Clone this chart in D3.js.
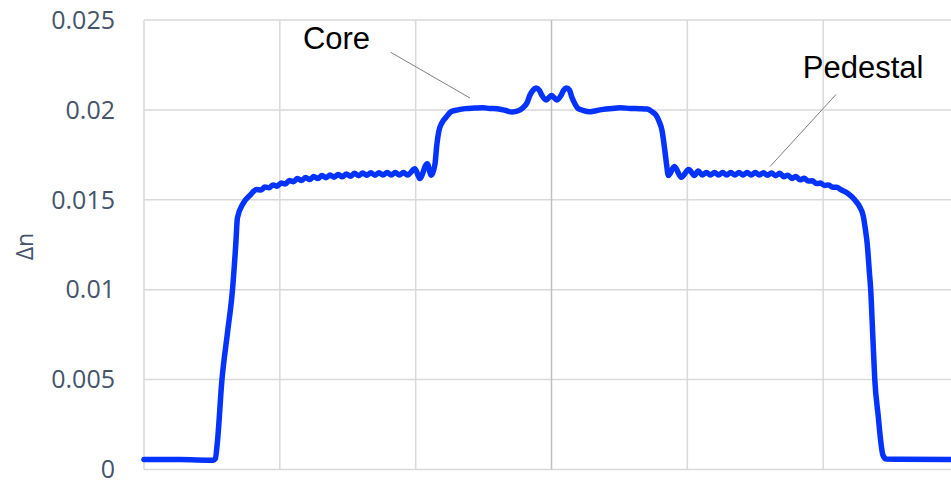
<!DOCTYPE html>
<html>
<head>
<meta charset="utf-8">
<script src="https://cdn.jsdelivr.net/npm/d3@7"></script>
<style>
  html, body { margin: 0; padding: 0; background: #fff; }
  svg { display: block; }
</style>
</head>
<body>
<svg id="chart" width="951" height="480"></svg>
<script>
// Refractive index difference profile across the fibre (position in µm).
const positions = [
  -60.0, -54.7, -49.8, -49.5, -49.2, -48.52, -47.71, -46.97, -46.49, -46.24,
  -45.4, -44.4,
  -43.4, -42.8, -42.2, -41.6, -41.0, -40.4, -39.8, -39.2, -38.6, -38.0,
  -37.4, -36.8, -36.2, -35.6, -35.0, -34.4, -33.8, -33.2, -32.6, -32.0,
  -31.4, -30.8, -30.2, -29.6, -29.0, -28.4, -27.8, -27.2, -26.6, -26.0,
  -25.4, -24.8, -24.2, -23.6, -23.0, -22.4, -21.8, -21.2,
  -20.1, -19.4, -18.3, -17.7, -17.15, -16.9, -16.6, -16.1, -15.5, -14.8,
  -13.8, -12.7, -11.3, -10.1, -9.1, -8.0, -6.85, -5.8, -4.9, -4.2,
  -3.6, -3.2, -2.7, -2.3, -1.8, -1.4, -0.8, 0.0, 0.8, 1.4,
  1.8, 2.2, 2.65, 3.0, 3.5, 3.9, 4.6, 5.7, 6.7, 7.6,
  8.9, 10.1, 11.6, 13.0, 14.1, 14.8, 15.4, 15.8, 16.3, 16.6,
  16.9, 17.2, 18.1, 19.1, 20.2, 21.05,
  21.6, 22.2, 22.8, 23.4, 24.0, 24.6, 25.2, 25.8, 26.4, 27.0,
  27.6, 28.2, 28.8, 29.4, 30.0, 30.6, 31.2, 31.8, 32.4, 33.0,
  33.6, 34.2, 34.8, 35.4, 36.0, 36.6, 37.2, 37.8, 38.4, 39.0,
  39.6, 40.2, 40.8, 41.4, 42.0, 42.6,
  43.6, 44.7, 45.4, 45.9, 46.2, 46.5, 46.8, 47.0, 47.3, 47.6,
  48.1, 48.5, 48.8, 49.3, 51.3, 60.0
];
const deltaN = [
  0.00055, 0.00055, 0.00052, 0.0006, 0.0015, 0.0050, 0.0076, 0.0100, 0.0125, 0.0140,
  0.0148, 0.01525,
  0.01557, 0.01554, 0.01571, 0.01567, 0.01583, 0.01576, 0.01594, 0.01588, 0.01607, 0.01601,
  0.01618, 0.01607, 0.01624, 0.01613, 0.01629, 0.01618, 0.01635, 0.01623, 0.01638, 0.01626,
  0.01641, 0.01628, 0.01644, 0.01631, 0.01647, 0.01634, 0.01649, 0.01636, 0.0165, 0.01637,
  0.01651, 0.01638, 0.01652, 0.01638, 0.01652, 0.01638, 0.01652, 0.01638,
  0.01673, 0.01618, 0.01701, 0.01636, 0.0170, 0.0180, 0.0188, 0.0193, 0.0196, 0.0199,
  0.0200, 0.02007, 0.0201, 0.02012, 0.02008, 0.02006, 0.01998, 0.01988, 0.01995, 0.02012,
  0.0204, 0.0208, 0.0211, 0.02122, 0.0211, 0.0208, 0.02055, 0.0208, 0.02055, 0.0208,
  0.0211, 0.02122, 0.0211, 0.0207, 0.0203, 0.02008, 0.01998, 0.0199, 0.01997, 0.02003,
  0.02008, 0.02012, 0.02008, 0.02007, 0.02005, 0.0199, 0.0197, 0.0194, 0.0188, 0.0180,
  0.0171, 0.01635, 0.01685, 0.01625, 0.01668, 0.01635,
  0.0166, 0.01638, 0.01652, 0.01638, 0.01652, 0.01638, 0.01652, 0.01638, 0.01652, 0.01638,
  0.01652, 0.01638, 0.01652, 0.01638, 0.01652, 0.01638, 0.01651, 0.01636, 0.01649, 0.01634,
  0.01647, 0.01628, 0.01637, 0.01619, 0.01629, 0.01611, 0.0162, 0.01604, 0.01606, 0.0159,
  0.01593, 0.0158, 0.01583, 0.0157, 0.0157, 0.01556,
  0.01536, 0.01497, 0.0146, 0.0141, 0.0134, 0.0125, 0.0110, 0.0100, 0.0075, 0.0050,
  0.0030, 0.0015, 0.0008, 0.00058, 0.00057, 0.00056
];

const yTicks = [0, 0.005, 0.01, 0.015, 0.02, 0.025];
const yTickLabels = ["0", "0.005", "0.01", "0.015", "0.02", "0.025"];
const xGrid = [-60, -40, -20, 0, 20, 40, 60];

// Callout labels: text anchor and leader line (both in data coordinates).
const calloutNames = ["Core", "Pedestal"];
const calloutText = [[-36.6, 0.0234], [37.0, 0.02179]];
const calloutFrom = [[-23.7, 0.02321], [41.9, 0.02086]];
const calloutTo = [[-12.0, 0.02066], [32.2, 0.01686]];

const svg = d3.select("#chart");
const plotLeft = 144, plotRight = 959, plotTop = 20, plotBottom = 469.5;

const x = d3.scaleLinear().domain([-60, 60]).range([plotLeft, plotRight]);
const y = d3.scaleLinear().domain([0, 0.025]).range([plotBottom, plotTop]);

svg.append("defs").append("clipPath").attr("id", "plotClip")
  .append("rect").attr("x", plotLeft - 10).attr("y", 0)
  .attr("width", 951 - plotLeft + 10).attr("height", 480);

const grid = svg.append("g");
grid.selectAll("line.h").data(yTicks).join("line")
  .attr("class", "h")
  .attr("x1", plotLeft).attr("x2", plotRight)
  .attr("y1", d => y(d)).attr("y2", d => y(d))
  .attr("stroke", "#d9d9d9").attr("stroke-width", 1.5);
grid.selectAll("line.v").data(xGrid).join("line")
  .attr("class", "v")
  .attr("x1", d => x(d)).attr("x2", d => x(d))
  .attr("y1", y(0.025)).attr("y2", y(0))
  .attr("stroke", d => d === 0 ? "#bfbfbf" : "#d9d9d9")
  .attr("stroke-width", 1.5);

// Y axis tick labels
const yAxis = d3.axisLeft(y).tickValues(yTicks)
  .tickFormat((d, i) => yTickLabels[i]).tickSize(0).tickPadding(0);
const yAxisG = svg.append("g").attr("transform", "translate(115,0)").call(yAxis);
yAxisG.select(".domain").remove();
yAxisG.selectAll("text")
  .attr("font-family", "'Open Sans', sans-serif")
  .attr("font-size", 25)
  .attr("fill", "#44546a")
  .attr("dy", "0.33em");

svg.append("text")
  .attr("transform", `translate(33,${y(0.0124)}) rotate(-90)`)
  .attr("text-anchor", "middle")
  .attr("font-family", "'Open Sans', sans-serif")
  .attr("font-size", 23)
  .attr("fill", "#44546a")
  .text("Δn");

// Profile curve
const points = positions.map((p, i) => [p, deltaN[i]]);
const line = d3.line().x(d => x(d[0])).y(d => y(d[1])).curve(d3.curveMonotoneX);
svg.append("path")
  .datum(points)
  .attr("clip-path", "url(#plotClip)")
  .attr("d", line)
  .attr("fill", "none")
  .attr("stroke", "#0433ff")
  .attr("stroke-width", 5.5)
  .attr("stroke-linejoin", "round")
  .attr("stroke-linecap", "round");

// Callouts
const callouts = svg.append("g");
calloutNames.forEach((name, i) => {
  callouts.append("line")
    .attr("x1", x(calloutFrom[i][0])).attr("y1", y(calloutFrom[i][1]))
    .attr("x2", x(calloutTo[i][0])).attr("y2", y(calloutTo[i][1]))
    .attr("stroke", "#808080").attr("stroke-width", 1);
  callouts.append("text")
    .attr("x", x(calloutText[i][0])).attr("y", y(calloutText[i][1]))
    .attr("font-family", "'Liberation Sans', Arial, sans-serif")
    .attr("font-size", 31)
    .attr("fill", "#000")
    .text(name);
});
</script>
</body>
</html>
